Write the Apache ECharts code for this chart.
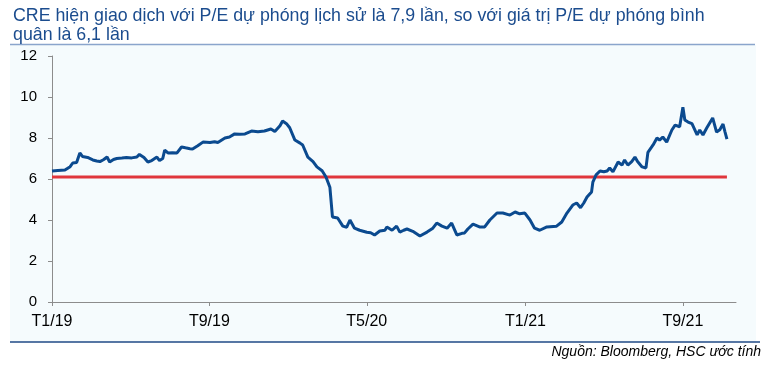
<!DOCTYPE html>
<html><head><meta charset="utf-8">
<script src="https://cdn.jsdelivr.net/npm/echarts@6/dist/echarts.min.js"></script>
<style>html,body{margin:0;padding:0;background:#fff}#c{width:766px;height:367px}</style>
</head><body><div id="c"></div>
<script>
const titleText = 'CRE hiện giao dịch với P/E dự phóng lịch sử là 7,9 lần, so với giá trị P/E dự phóng bình\nquân là 6,1 lần';
const sourceText = 'Nguồn: Bloomberg, HSC ước tính';
const tickDates = ['2019-01-01','2019-09-01','2020-05-01','2021-01-01','2021-09-01'];
const yTicks = [0,2,4,6,8,10,12];
const avgPE = 6.1;
const dates = ['2019-01-01','2019-01-10','2019-01-21','2019-01-29','2019-02-02','2019-02-08','2019-02-13','2019-02-17','2019-02-25','2019-03-05',
'2019-03-11','2019-03-16','2019-03-22','2019-03-27','2019-03-31','2019-04-06','2019-04-11','2019-04-19','2019-04-26','2019-05-04',
'2019-05-12','2019-05-16','2019-05-23','2019-05-29','2019-06-04','2019-06-12','2019-06-16','2019-06-21','2019-06-24','2019-06-29',
'2019-07-06','2019-07-13','2019-07-20','2019-07-26','2019-08-02','2019-08-06','2019-08-14','2019-08-22','2019-09-02','2019-09-09',
'2019-09-14','2019-09-25','2019-10-02','2019-10-10','2019-10-18','2019-10-26','2019-11-05','2019-11-15','2019-11-25','2019-12-05',
'2019-12-11','2019-12-19','2019-12-23','2019-12-29','2020-01-03','2020-01-11','2020-01-19','2020-01-23','2020-01-31','2020-02-08',
'2020-02-14','2020-02-22','2020-02-28','2020-03-05','2020-03-09','2020-03-17','2020-03-25','2020-03-31','2020-04-05','2020-04-12',
'2020-04-20','2020-05-01','2020-05-07','2020-05-13','2020-05-21','2020-05-29','2020-06-01','2020-06-09','2020-06-16','2020-06-21',
'2020-06-27','2020-07-02','2020-07-11','2020-07-22','2020-08-02','2020-08-11','2020-08-17','2020-08-25','2020-09-02','2020-09-09',
'2020-09-17','2020-09-25','2020-09-29','2020-10-04','2020-10-12','2020-10-22','2020-10-30','2020-11-07','2020-11-18','2020-11-27',
'2020-12-08','2020-12-16','2020-12-23','2020-12-31','2021-01-08','2021-01-15','2021-01-23','2021-02-03','2021-02-18','2021-02-26',
'2021-03-06','2021-03-15','2021-03-21','2021-03-27','2021-04-01','2021-04-06','2021-04-13','2021-04-15','2021-04-20','2021-04-26',
'2021-05-02','2021-05-07','2021-05-11','2021-05-16','2021-05-24','2021-05-30','2021-06-03','2021-06-08','2021-06-14','2021-06-19',
'2021-06-23','2021-06-30','2021-07-06','2021-07-09','2021-07-17','2021-07-23','2021-07-27','2021-08-01','2021-08-07','2021-08-15',
'2021-08-20','2021-08-27','2021-09-01','2021-09-04','2021-09-09','2021-09-15','2021-09-23','2021-09-27','2021-10-02','2021-10-08',
'2021-10-17','2021-10-23','2021-10-28','2021-11-02','2021-11-05','2021-11-08'];
const pe = [6.39,6.42,6.44,6.6,6.78,6.8,7.27,7.1,7.05,6.93,
6.88,6.85,6.95,7.07,6.83,6.95,7.0,7.02,7.05,7.03,
7.07,7.2,7.05,6.83,6.9,7.07,6.9,7.0,7.41,7.27,
7.28,7.27,7.56,7.52,7.48,7.46,7.62,7.8,7.78,7.82,
7.78,8.0,8.05,8.2,8.18,8.2,8.34,8.3,8.34,8.44,
8.32,8.6,8.83,8.7,8.5,7.9,7.75,7.66,7.07,6.85,
6.59,6.4,6.1,5.6,4.15,4.1,3.7,3.65,4.0,3.6,
3.5,3.4,3.38,3.27,3.46,3.5,3.66,3.5,3.7,3.41,
3.5,3.56,3.45,3.22,3.41,3.6,3.85,3.7,3.6,3.85,
3.27,3.35,3.37,3.56,3.8,3.66,3.66,4.0,4.34,4.34,
4.24,4.39,4.3,4.34,4.0,3.6,3.5,3.66,3.7,3.9,
4.34,4.73,4.83,4.6,4.83,5.12,5.37,5.85,6.2,6.39,
6.35,6.39,6.54,6.35,6.83,6.68,6.93,6.68,6.85,7.07,
6.85,6.59,6.54,7.3,7.66,8.0,7.9,8.05,7.8,8.39,
8.63,8.55,9.5,8.88,8.78,8.7,8.15,8.39,8.15,8.5,
8.98,8.29,8.4,8.68,8.3,7.95];

function ts(s){const p=s.split('-');return Date.UTC(+p[0],+p[1]-1,+p[2]);}
const xMin = ts('2019-01-01'), xMax = ts('2021-11-22');
const tickVals = tickDates.map(ts);
const lineData = dates.map((d,i)=>[ts(d), pe[i]]);
const avgData = [[ts(dates[0]), avgPE],[ts(dates[dates.length-1]), avgPE]];

const chart = echarts.init(document.getElementById('c'), null, {renderer:'canvas'});
chart.setOption({
  animation:false,
  backgroundColor:'#ffffff',
  textStyle:{fontFamily:'Liberation Sans, Arial, sans-serif'},
  title:{text:titleText,left:8,top:2,textStyle:{color:'#1b4c8e',fontSize:17.8,fontWeight:'normal',lineHeight:19,fontFamily:'Liberation Sans, Arial, sans-serif'}},
  graphic:[
    {type:'rect',z:-10,shape:{x:10,y:45,width:746,height:297},style:{fill:'#f5fbfd'},silent:true},
    {type:'line',z:-5,shape:{x1:10,y1:44.5,x2:755,y2:44.5},style:{stroke:'#8aa5cc',lineWidth:1.5},silent:true},
    {type:'line',z:-5,shape:{x1:10,y1:342,x2:760,y2:342},style:{stroke:'#1f4a86',lineWidth:1.5},silent:true},
    {type:'text',right:5,top:345,style:{text:sourceText,fill:'#000',font:'italic 14px "Liberation Sans", Arial, sans-serif'}}
  ],
  grid:{left:52,right:30,top:56,bottom:65,containLabel:false},
  xAxis:{type:'value',min:xMin,max:xMax,
    axisLine:{show:true,lineStyle:{color:'#8c8c8c',width:1}},
    axisTick:{show:true,length:4,customValues:tickVals,lineStyle:{color:'#8c8c8c'}},
    splitLine:{show:false},
    axisLabel:{customValues:tickVals,color:'#000',fontSize:16,margin:12,
      formatter:function(v){const d=new Date(v);return 'T'+(d.getUTCMonth()+1)+'/'+String(d.getUTCFullYear()).slice(2);}}
  },
  yAxis:{type:'value',min:0,max:12,interval:2,
    axisLine:{show:true,lineStyle:{color:'#8c8c8c',width:1}},
    axisTick:{show:true,length:4,lineStyle:{color:'#8c8c8c'}},
    splitLine:{show:false},
    axisLabel:{color:'#000',fontSize:15,margin:15}
  },
  series:[
    {type:'line',data:avgData,symbol:'none',lineStyle:{color:'#e0363c',width:3},z:2},
    {type:'line',data:lineData,symbol:'none',lineStyle:{color:'#0b4a8f',width:3},z:3}
  ]
});
</script></body></html>
